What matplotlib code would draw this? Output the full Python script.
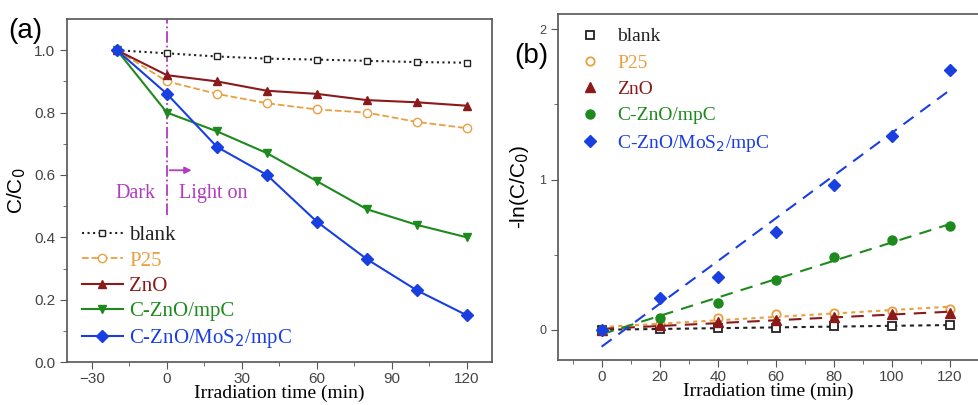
import numpy as np
import matplotlib.pyplot as plt

# panel (a): C/C0 vs time
t_a = [-20, 0, 20, 40, 60, 80, 100, 120]
blank_a = [1.0, 0.99, 0.98, 0.973, 0.97, 0.966, 0.962, 0.96]
p25_a = [1.0, 0.90, 0.86, 0.83, 0.81, 0.80, 0.77, 0.75]
zno_a = [1.0, 0.92, 0.90, 0.87, 0.86, 0.84, 0.833, 0.822]
czno_a = [1.0, 0.80, 0.74, 0.67, 0.58, 0.49, 0.44, 0.40]
mos2_a = [1.0, 0.86, 0.69, 0.60, 0.45, 0.33, 0.23, 0.15]

# panel (b): -ln(C/C0) vs time
t_b = [0, 20, 40, 60, 80, 100, 120]
blank_b = [0.0, 0.008, 0.012, 0.016, 0.025, 0.028, 0.031]
p25_b = [0.0, 0.04, 0.08, 0.105, 0.115, 0.127, 0.142]
zno_b = [0.0, 0.03, 0.05, 0.065, 0.087, 0.104, 0.116]
czno_b = [0.0, 0.078, 0.18, 0.33, 0.487, 0.60, 0.69]
mos2_b = [0.0, 0.21, 0.35, 0.65, 0.965, 1.29, 1.73]

names = ["blank", "P25", "ZnO", "C-ZnO/mpC", "C-ZnO/MoS$_2$/mpC"]
colors = ["#222222", "#E8A040", "#8B1A1A", "#1E8A1E", "#1A3FE0"]

serif = "Liberation Serif"
sans = "Liberation Sans"
tickcol = "#444444"
purple = "#B03CC0"

fig = plt.figure(figsize=(9.79, 4.05), dpi=100)
ax1 = fig.add_axes([0.0684, 0.106, 0.434, 0.847])
ax2 = fig.add_axes([0.570, 0.111, 0.43, 0.854])

# ---- (a)
ax1.plot(t_a, blank_a, ":", color=colors[0], lw=1.5, marker="s", ms=5, mfc="white", label=names[0])
ax1.plot(t_a, p25_a, "--", color=colors[1], lw=1.3, marker="o", ms=6, mfc="white", label=names[1])
ax1.plot(t_a, zno_a, "-", color=colors[2], lw=1.5, marker="^", ms=6, label=names[2])
ax1.plot(t_a, czno_a, "-", color=colors[3], lw=1.5, marker="v", ms=6, label=names[3])
ax1.plot(t_a, mos2_a, "-", color=colors[4], lw=1.5, marker="D", ms=6, label=names[4])

# dark / light boundary
ax1.axvline(0, ymin=0.43, ymax=1.0, color=purple, ls="-.", lw=1.3, zorder=1)
ax1.annotate("", xy=(11, 0.615), xytext=(0, 0.615),
             arrowprops=dict(arrowstyle="-|>", color=purple, lw=1.3))
ax1.text(-4.5, 0.54, "Dark", color=purple, family=serif, fontsize=14.5, ha="right", va="center")
ax1.text(5, 0.54, "Light on", color=purple, family=serif, fontsize=14.5, ha="left", va="center")

ax1.set_xlim(-40, 130)
ax1.set_ylim(0, 1.1)
ax1.set_xticks([-30, 0, 30, 60, 90, 120])
ax1.set_xticks(np.arange(-30, 130, 15), minor=True)
ax1.set_yticks([0.0, 0.2, 0.4, 0.6, 0.8, 1.0])
ax1.set_yticks(np.arange(0.1, 1.1, 0.2), minor=True)
ax1.set_yticklabels(["0.0", "0.2", "0.4", "0.6", "0.8", "1.0"])
ax1.set_xlabel("Irradiation time (min)", family=serif, fontsize=14, labelpad=-1)
ax1.set_ylabel("C/C$_0$", family=sans, fontsize=15, labelpad=4)
leg1 = ax1.legend(loc="lower left", frameon=False, prop={"family": serif, "size": 15},
                  handlelength=2.0, handletextpad=0.3, labelspacing=0.28,
                  borderaxespad=0.3, bbox_to_anchor=(0.0, -0.008))
for txt, c in zip(leg1.get_texts(), colors):
    txt.set_color(c)
fig.text(0.008, 0.905, "(a)", family=sans, fontsize=20)

# ---- (b)
markers_b = ["s", "o", "^", "o", "D"]
data_b = [blank_b, p25_b, zno_b, czno_b, mos2_b]
fit_styles = [(0, (2, 2)), (0, (2, 2)), (0, (6, 4)), (0, (6, 4)), (0, (6, 4))]
xfit = np.array([0, 120])
for y, c, m, ls, nm in zip(data_b, colors, markers_b, fit_styles, names):
    k, b = np.polyfit(t_b, y, 1)
    ax2.plot(xfit, k * xfit + b, color=c, ls=ls, lw=1.5)
    if nm in ("blank", "P25"):
        ax2.plot(t_b, y, ls="none", marker=m, ms=6, mfc="white", mec=c, mew=1.3, label=nm)
    else:
        ax2.plot(t_b, y, ls="none", marker=m, ms=6.5, color=c, label=nm)

ax2.set_xlim(-15, 130)
ax2.set_ylim(-0.2, 2.1)
ax2.set_xticks([0, 20, 40, 60, 80, 100, 120])
ax2.set_xticks(np.arange(-10, 130, 10), minor=True)
ax2.set_yticks([0, 1, 2])
ax2.set_yticks([0.5, 1.5], minor=True)
ax2.set_xlabel("Irradiation time (min)", family=serif, fontsize=14, labelpad=-1)
ax2.set_ylabel("-ln(C/C$_0$)", family=sans, fontsize=15, labelpad=6)
leg2 = ax2.legend(loc="upper left", frameon=False, prop={"family": serif, "size": 14},
                  handlelength=1.0, handletextpad=0.9, labelspacing=0.45,
                  borderaxespad=0.3, bbox_to_anchor=(0.02, 1.0))
for txt, c in zip(leg2.get_texts(), colors):
    txt.set_color(c)
fig.text(0.525, 0.845, "(b)", family=sans, fontsize=20)

for ax in (ax1, ax2):
    for sp in ax.spines.values():
        sp.set_color("#555555")
        sp.set_linewidth(1.2)
    ax.tick_params(which="both", direction="out", colors="#555555", labelcolor=tickcol, top=False, right=False)
    ax.tick_params(which="major", length=5, labelsize=11)
    ax.tick_params(which="minor", length=3)
    ax.tick_params(axis="x", pad=2)
    for lab in ax.get_xticklabels() + ax.get_yticklabels():
        lab.set_family(sans)
ax2.tick_params(axis="y", labelsize=9)

fig.savefig("out.png", dpi=100)
